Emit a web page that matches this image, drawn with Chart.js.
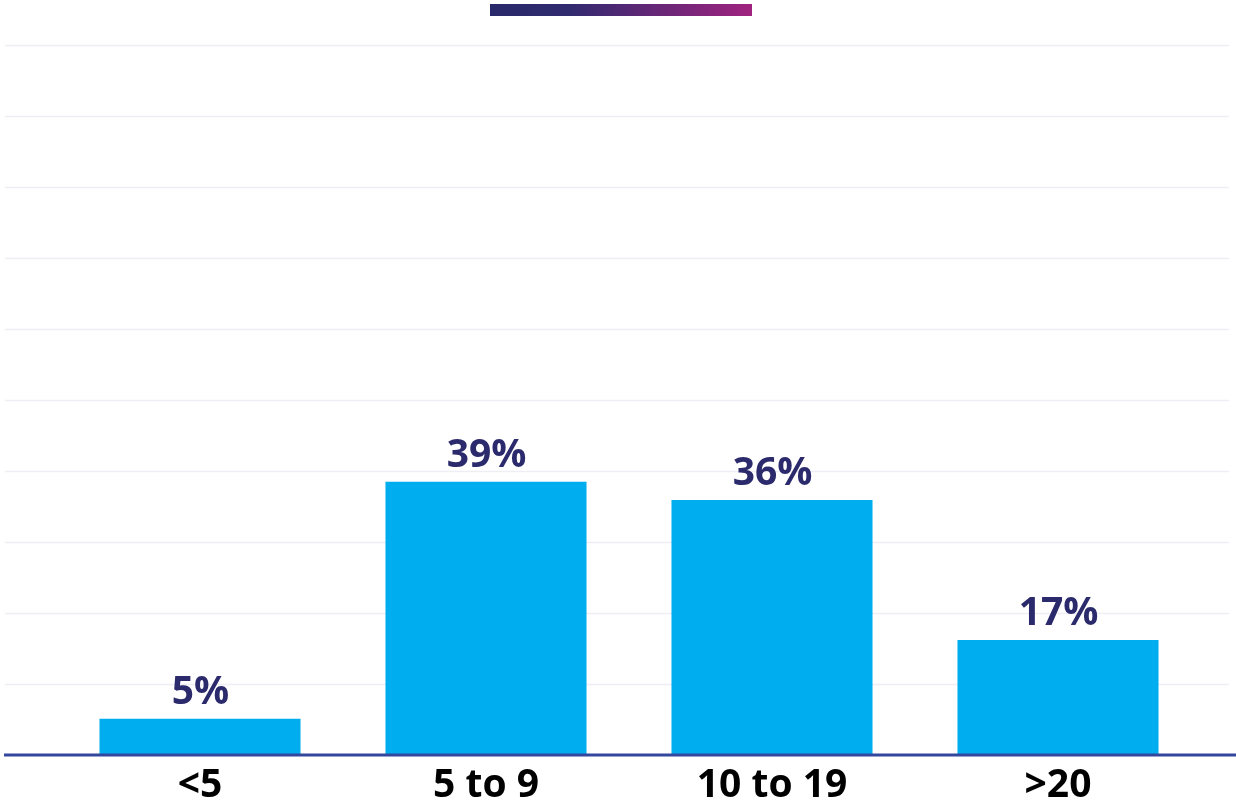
<!DOCTYPE html>
<html>
<head>
<meta charset="utf-8">
<script src="https://cdn.jsdelivr.net/npm/chart.js@4"></script>
<style>
  html, body { margin: 0; padding: 0; background: #ffffff; }
  #wrap { width: 1236px; height: 805px; position: relative; }
</style>
</head>
<body>
<div id="wrap"><canvas id="c" width="1236" height="805"></canvas></div>
<script>
const categories = ["<5", "5 to 9", "10 to 19", ">20"];
const values = [5.1, 38.5, 35.9, 16.2];
const valueLabels = ["5%", "39%", "36%", "17%"];
const gridValues = [10, 20, 30, 40, 50, 60, 70, 80, 90, 100];

const FONT = "'Open Sans', 'Noto Sans', sans-serif";

const decorPlugin = {
  id: 'decor',
  beforeDatasetsDraw(chart) {
    const ctx = chart.ctx;
    const y = chart.scales.y;
    ctx.save();
    ctx.strokeStyle = '#efeef5';
    ctx.lineWidth = 1.5;
    gridValues.forEach(v => {
      const py = Math.round(y.getPixelForValue(v)) + 0.5;
      ctx.beginPath();
      ctx.moveTo(5, py);
      ctx.lineTo(1229, py);
      ctx.stroke();
    });
    // top gradient bar
    const g = ctx.createLinearGradient(490, 0, 752, 0);
    g.addColorStop(0, '#28296b');
    g.addColorStop(0.3, '#302a6f');
    g.addColorStop(1, '#a0237f');
    ctx.fillStyle = g;
    ctx.fillRect(490, 4, 262, 12);
    ctx.restore();
  },
  afterDatasetsDraw(chart) {
    const ctx = chart.ctx;
    const y = chart.scales.y;
    const meta = chart.getDatasetMeta(0);
    ctx.save();
    // baseline
    const by = y.getPixelForValue(0);
    ctx.strokeStyle = '#33479d';
    ctx.lineWidth = 3;
    ctx.beginPath();
    ctx.moveTo(4, by);
    ctx.lineTo(1236, by);
    ctx.stroke();
    // value labels
    ctx.fillStyle = '#2b2a6c';
    ctx.font = "bold 39px " + FONT;
    ctx.textAlign = 'center';
    ctx.textBaseline = 'alphabetic';
    meta.data.forEach((bar, i) => {
      ctx.fillText(valueLabels[i], bar.x + 0.5, bar.y - 15);
    });
    ctx.restore();
  }
};

new Chart(document.getElementById('c'), {
  type: 'bar',
  data: {
    labels: categories,
    datasets: [{
      data: values,
      backgroundColor: '#00adee',
      borderWidth: 0,
      categoryPercentage: 1,
      barPercentage: 0.703
    }]
  },
  options: {
    responsive: false,
    animation: false,
    layout: { padding: { top: 45, left: 57, right: 35, bottom: 0 } },
    plugins: { legend: { display: false }, tooltip: { enabled: false } },
    scales: {
      x: {
        grid: { display: false, drawTicks: false },
        border: { display: false },
        ticks: {
          color: '#000000',
          font: { family: FONT, size: 39, weight: 'bold' },
          padding: 7,
          maxRotation: 0,
          autoSkip: false
        },
        afterFit: s => { s.height = 50; }
      },
      y: {
        display: false,
        min: 0,
        max: 100
      }
    }
  },
  plugins: [decorPlugin]
});
</script>
</body>
</html>
